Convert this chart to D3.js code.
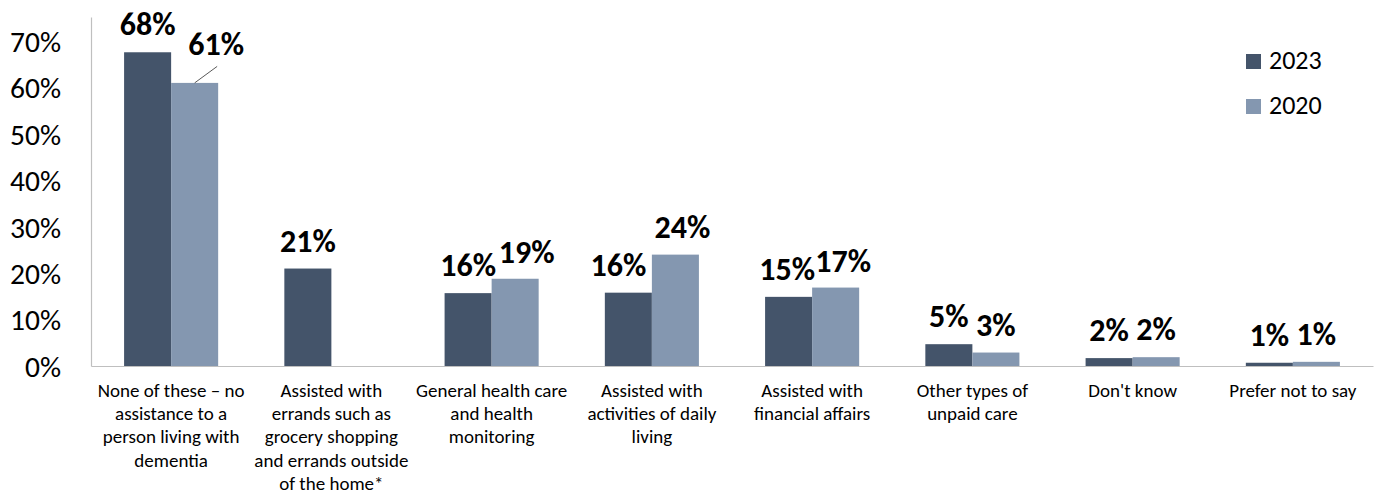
<!DOCTYPE html>
<html><head><meta charset="utf-8">
<script src="https://cdn.jsdelivr.net/npm/d3@7"></script>
<style>html,body{margin:0;padding:0;background:#fff;}svg{display:block;}</style>
</head><body>
<svg id="chart" width="1374" height="492"></svg>
<script>
const categories = [
  "None of these – no assistance to a person living with dementia",
  "Assisted with errands such as grocery shopping and errands outside of the home*",
  "General health care and health monitoring",
  "Assisted with activities of daily living",
  "Assisted with financial affairs",
  "Other types of unpaid care",
  "Don't know",
  "Prefer not to say"
];
const categoryLines = [
  ["None of these – no", "assistance to a", "person living with", "dementia"],
  ["Assisted with", "errands such as", "grocery shopping", "and errands outside", "of the home*"],
  ["General health care", "and health", "monitoring"],
  ["Assisted with", "activities of daily", "living"],
  ["Assisted with", "financial affairs"],
  ["Other types of", "unpaid care"],
  ["Don't know"],
  ["Prefer not to say"]
];
const seriesNames = ["2023", "2020"];
const values2023 = [0.676, 0.21, 0.157, 0.158, 0.149, 0.047, 0.017, 0.007];
const values2020 = [0.61, null, 0.188, 0.24, 0.169, 0.029, 0.019, 0.009];
const tickValues = [0, 0.1, 0.2, 0.3, 0.4, 0.5, 0.6, 0.7];

(function () {
const colors = {"2023": "#44546A", "2020": "#8497B0"};
const FONT = "Calibri, Carlito, Lato, 'Liberation Sans', sans-serif";

const svg = d3.select("#chart");
const mLeft = 91, mRight = 1373, mTop = 17, mBottom = 366;

const y = d3.scaleLinear().domain([0, 0.752]).range([mBottom, mTop]);
const x0 = d3.scaleBand().domain(categories).range([mLeft, mRight]).paddingInner(0.413).paddingOuter(0.2065);
const x1 = d3.scaleBand().domain(seriesNames).range([0, x0.bandwidth()]);

const series = {"2023": values2023, "2020": values2020};

// y axis
const yAxis = d3.axisLeft(y).tickValues(tickValues).tickFormat(d3.format(".0%")).tickSize(0).tickPadding(30);
const gy = svg.append("g").attr("transform", `translate(${mLeft},0)`).call(yAxis);
gy.select(".domain").attr("stroke", "#BFBFBF").attr("stroke-width", 1.2);
gy.selectAll("text").attr("font-family", FONT).attr("font-size", 29.5).attr("fill", "#000").attr("dy", "0.35em");

// x baseline
const xAxis = d3.axisBottom(x0).tickSize(0).tickFormat("");
const gx = svg.append("g").attr("transform", `translate(0,${mBottom})`).call(xAxis);
gx.select(".domain").attr("stroke", "#BFBFBF").attr("stroke-width", 1.2);

// category labels
categories.forEach((c, i) => {
  const cx = x0(c) + x0.bandwidth() / 2;
  const t = svg.append("text").attr("x", cx).attr("y", 397)
    .attr("text-anchor", "middle").attr("font-family", FONT).attr("font-size", 19).attr("fill", "#000");
  categoryLines[i].forEach((ln, j) => {
    t.append("tspan").attr("x", cx).attr("y", 397 + j * 23.2).text(ln);
  });
});

// bars
const barData = [];
seriesNames.forEach(s => {
  series[s].forEach((v, i) => {
    if (v == null) return;
    barData.push({s, i, v, cat: categories[i]});
  });
});
svg.append("g").selectAll("rect").data(barData).join("rect")
  .attr("x", d => x0(d.cat) + x1(d.s))
  .attr("y", d => y(d.v))
  .attr("width", x1.bandwidth())
  .attr("height", d => y(0) - y(d.v))
  .attr("fill", d => colors[d.s]);

// data labels (with nudges to mimic overlap resolution)
const labelNudge = {"2020-0": [21.5, -11], "2020-2": [11.5, 1.5], "2023-3": [-10, 0], "2020-3": [7, 0], "2020-4": [7.5, 1.5], "2023-4": [-1.5, 0]};
const lbl = svg.append("g");
barData.forEach(d => {
  const cx = x0(d.cat) + x1(d.s) + x1.bandwidth() / 2;
  const n = labelNudge[`${d.s}-${d.i}`] || [0, 0];
  const ty = y(d.v) - 17 + n[1];
  lbl.append("text").attr("x", cx + n[0]).attr("y", ty)
    .attr("text-anchor", "middle").attr("font-family", FONT).attr("font-weight", "bold")
    .attr("font-size", 32).attr("fill", "#000").text(d3.format(".0%")(d.v));
  if (d.s === "2020" && d.i === 0) {
    lbl.append("line").attr("x1", cx).attr("y1", y(d.v)).attr("x2", cx + 22.5).attr("y2", y(d.v) - 16.5)
      .attr("stroke", "#595959").attr("stroke-width", 1);
  }
});

// legend
const leg = svg.append("g");
seriesNames.forEach((s, i) => {
  const ly = 54 + i * 45;
  leg.append("rect").attr("x", 1246).attr("y", ly).attr("width", 15).attr("height", 15).attr("fill", colors[s]);
  leg.append("text").attr("x", 1269).attr("y", ly + 15).attr("font-family", FONT).attr("font-size", 26).attr("fill", "#000").text(s);
});
})();
</script>
</body></html>
